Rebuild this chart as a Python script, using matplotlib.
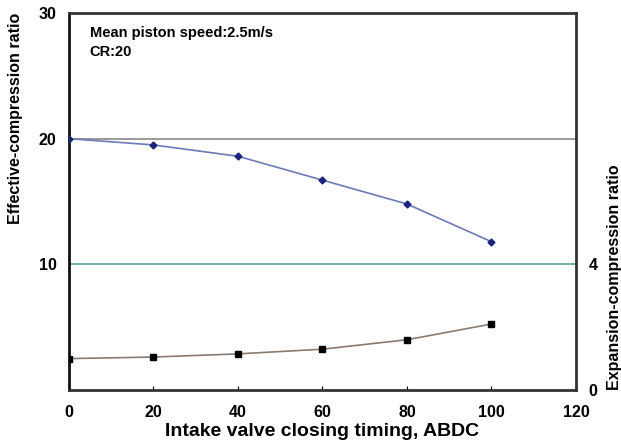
import numpy as np
import matplotlib.pyplot as plt

plt.rcParams['font.family'] = ['Liberation Sans', 'DejaVu Sans']
plt.rcParams['font.weight'] = 'bold'

ivc = [0, 20, 40, 60, 80, 100]
effective_cr = [20.0, 19.5, 18.6, 16.7, 14.8, 11.8]
expansion_cr = [1.0, 1.05, 1.15, 1.3, 1.6, 2.1]

fig = plt.figure(figsize=(6.21, 4.41), dpi=100)
ax = fig.add_axes([0.111, 0.1156, 0.8165, 0.855])

ax.axhline(20, color='#888888', lw=1.2, zorder=1)
ax.axhline(10, color='#5f9ea0', lw=1.2, zorder=1)

ax.plot(ivc, effective_cr, color='#6a7bb5', lw=1.2, marker='D', ms=3.5,
        mfc='#1a237e', mec='#1a237e', zorder=3)

ax.set_xlim(0, 120)
ax.set_ylim(0, 30)
ax.set_xticks(np.arange(0, 121, 20))
ax.set_yticks([10, 20, 30])
ax.tick_params(axis='x', direction='in', length=3, labelsize=11.5, pad=11)
ax.tick_params(axis='y', length=0, labelsize=11.5, pad=9)
for s in ax.spines.values():
    s.set_linewidth(2)
    s.set_color('#333333')
ax.spines['left'].set_color('#111111')

ax.set_xlabel('Intake valve closing timing, ABDC', fontsize=14, fontweight='bold', labelpad=2)
ax.set_ylabel('Effective-compression ratio', fontsize=11.5, fontweight='bold')
ax.yaxis.set_label_coords(-0.091, 0.72)

ax.text(0.041, 0.947, 'Mean piston speed:2.5m/s', transform=ax.transAxes,
        fontsize=10.5, fontweight='bold', va='center')
ax.text(0.041, 0.897, 'CR:20', transform=ax.transAxes,
        fontsize=10.5, fontweight='bold', va='center')

ax2 = ax.twinx()
ax2.plot(ivc, expansion_cr, color='#8a7a70', lw=1.2, marker='s', ms=4,
         mfc='black', mec='black', zorder=3)
ax2.set_ylim(0, 12)
ax2.set_yticks([0, 4])
ax2.tick_params(axis='y', length=0, labelsize=11.5, pad=9)
for s in ax2.spines.values():
    s.set_visible(False)
ax2.set_ylabel('Expansion-compression ratio', fontsize=11.5, fontweight='bold')
ax2.yaxis.set_label_coords(1.061, 0.30)

fig.savefig('out.png', dpi=100)
